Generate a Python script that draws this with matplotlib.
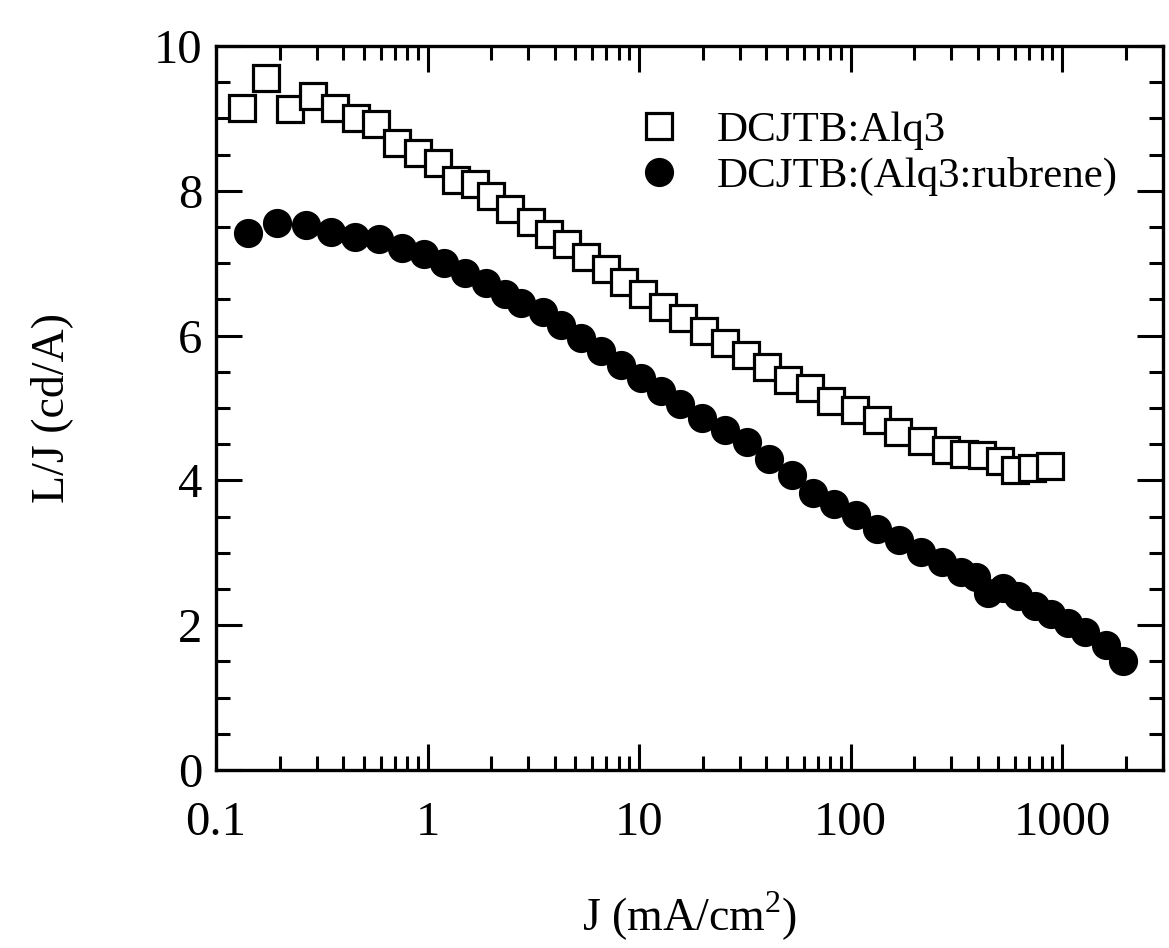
import numpy as np
import matplotlib
matplotlib.use("Agg")
from matplotlib import pyplot as plt
from matplotlib.ticker import LogLocator, MultipleLocator, FixedLocator, NullFormatter

plt.rcParams['font.family'] = ['Liberation Serif', 'DejaVu Serif']
plt.rcParams['mathtext.fontset'] = 'custom'
plt.rcParams['mathtext.rm'] = 'Liberation Serif'

# DCJTB:Alq3 (open squares)
j_alq3 = [0.132, 0.173, 0.223, 0.288, 0.364, 0.461, 0.573, 0.720, 0.900, 1.12,
          1.37, 1.67, 2.00, 2.46, 3.08, 3.76, 4.59, 5.64, 6.99, 8.50,
          10.4, 13.0, 16.1, 20.3, 25.4, 32.1, 40.3, 50.6, 64.5, 80.5,
          105, 133, 168, 217, 282, 344, 420, 508, 602, 722, 875]
lj_alq3 = [9.14, 9.56, 9.13, 9.31, 9.14, 9.00, 8.92, 8.66, 8.52, 8.39,
           8.15, 8.09, 7.93, 7.75, 7.57, 7.40, 7.26, 7.09, 6.92, 6.74,
           6.57, 6.39, 6.24, 6.06, 5.90, 5.73, 5.57, 5.39, 5.27, 5.09,
           4.97, 4.84, 4.67, 4.54, 4.42, 4.36, 4.35, 4.27, 4.15, 4.17, 4.20]

# DCJTB:(Alq3:rubrene) (filled circles)
j_rub = [0.141, 0.195, 0.265, 0.349, 0.456, 0.589, 0.760, 0.961, 1.20, 1.51,
         1.88, 2.33, 2.77, 3.50, 4.27, 5.31, 6.59, 8.20, 10.2, 12.7,
         15.7, 19.9, 25.4, 32.4, 41.0, 52.9, 66.2, 83.8, 106, 134,
         170, 215, 270, 334, 393, 448, 527, 620, 746, 887,
         1067, 1284, 1613, 1940]
lj_rub = [7.41, 7.55, 7.53, 7.43, 7.36, 7.34, 7.21, 7.12, 7.00, 6.86,
          6.72, 6.58, 6.45, 6.32, 6.15, 5.97, 5.79, 5.59, 5.42, 5.23,
          5.05, 4.86, 4.70, 4.53, 4.30, 4.08, 3.82, 3.68, 3.52, 3.33,
          3.17, 3.01, 2.87, 2.74, 2.66, 2.45, 2.52, 2.40, 2.27, 2.15,
          2.03, 1.90, 1.73, 1.50]

x_ticks = [0.1, 1, 10, 100, 1000]
x_ticklabels = ['0.1', '1', '10', '100', '1000']
y_ticks = [0, 2, 4, 6, 8, 10]

fig = plt.figure(figsize=(11.69, 9.48), dpi=100)
ax = fig.add_axes([0.1848, 0.1878, 0.81, 0.7637])

ax.plot(j_alq3, lj_alq3, linestyle='none', marker='s', markersize=18.5,
        markerfacecolor='white', markeredgecolor='black', markeredgewidth=2.3,
        label='DCJTB:Alq3')
ax.plot(j_rub, lj_rub, linestyle='none', marker='o', markersize=20,
        markerfacecolor='black', markeredgecolor='black',
        label='DCJTB:(Alq3:rubrene)')

ax.set_xscale('log')
ax.set_xlim(0.1, 3000)
ax.set_ylim(0, 10)

ax.xaxis.set_major_locator(FixedLocator(x_ticks))
ax.set_xticklabels(x_ticklabels)
ax.xaxis.set_minor_locator(LogLocator(base=10, subs=np.arange(2, 10), numticks=20))
ax.xaxis.set_minor_formatter(NullFormatter())
ax.yaxis.set_major_locator(FixedLocator(y_ticks))
ax.yaxis.set_minor_locator(MultipleLocator(0.5))

ax.tick_params(which='both', direction='in', top=True, right=True, width=2.2)
ax.tick_params(which='major', length=19)
ax.tick_params(which='minor', length=10)
ax.tick_params(axis='x', which='major', labelsize=35, pad=22)
ax.tick_params(axis='y', which='major', labelsize=35, pad=10)
for sp in ax.spines.values():
    sp.set_linewidth(2.4)

ax.set_xlabel('J (mA/cm$^{2}$)', fontsize=33, labelpad=33)
ax.set_ylabel('L/J (cd/A)', fontsize=33, labelpad=58)

ax.legend(loc='upper left', bbox_to_anchor=(0.445, 0.91), frameon=False,
          fontsize=31, handlelength=1.0, handletextpad=0.85, labelspacing=0.15,
          borderpad=0, borderaxespad=0, markerscale=1.0)

fig.savefig('out.png', dpi=100)
